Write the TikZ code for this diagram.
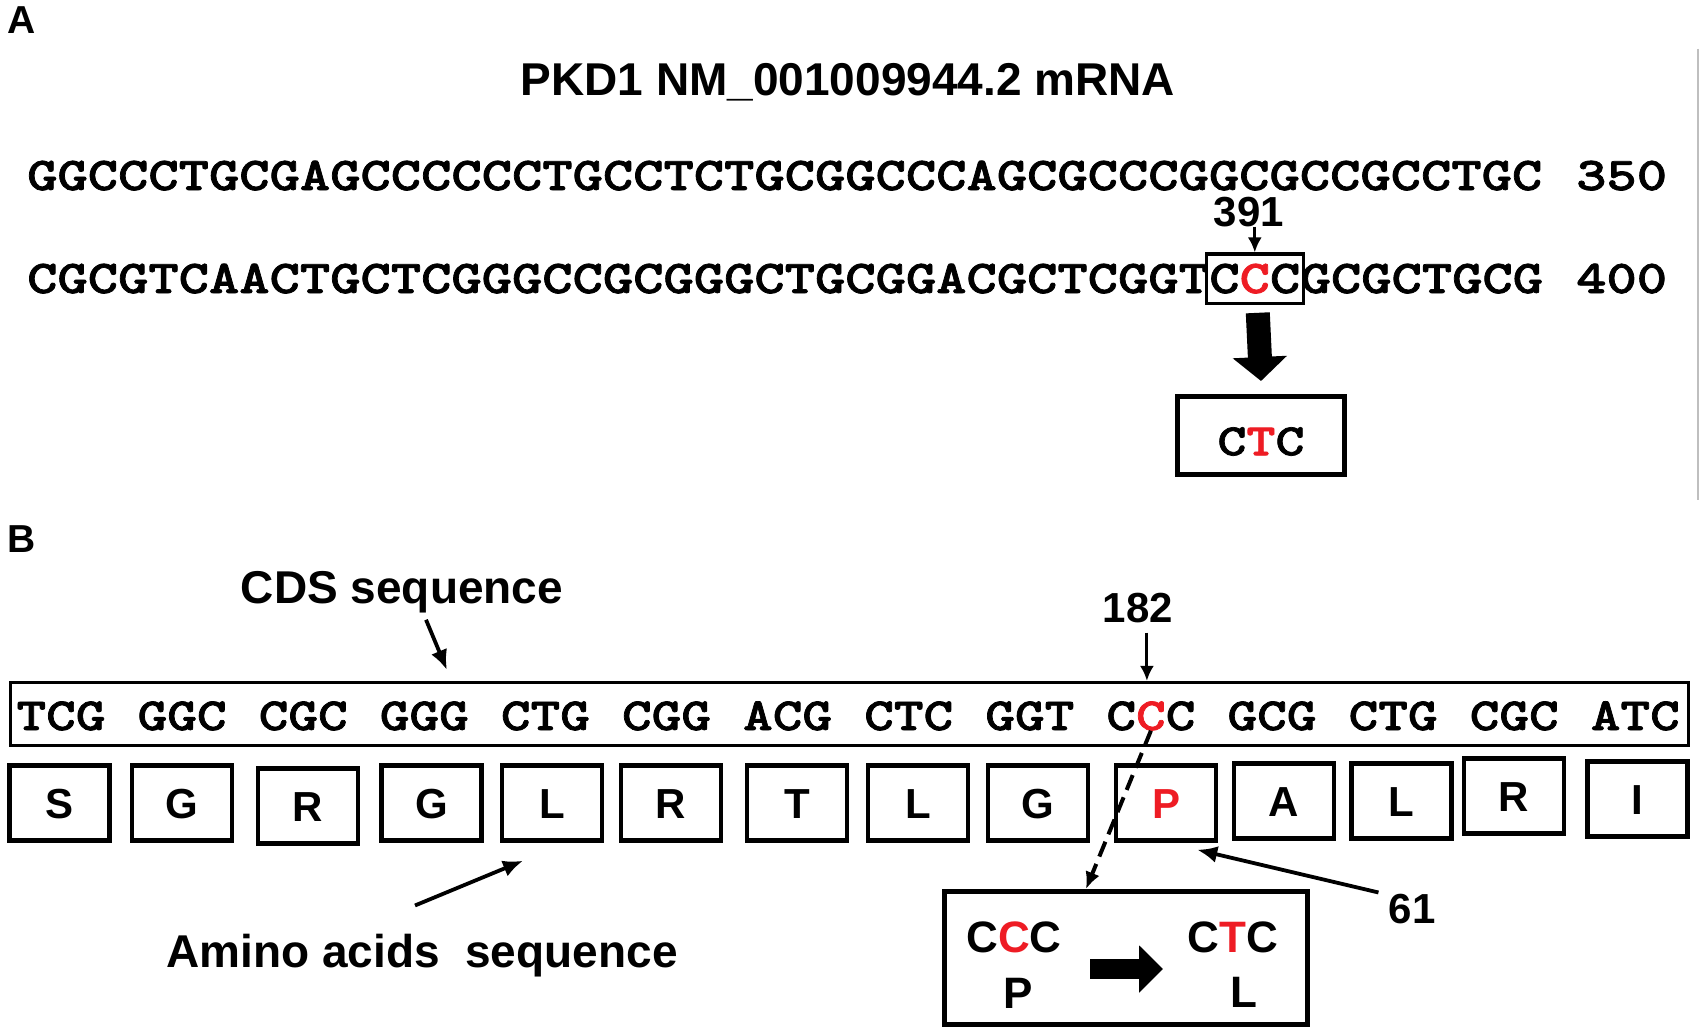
\documentclass[tikz,border=0pt]{standalone}
\usepackage{fontspec}
\usetikzlibrary{arrows.meta,calc,fit}
\newfontfamily\seqfont{lmmonolt10-bold.otf}[FakeStretch=1.228,FakeBold=1.6]
\newfontfamily\arialf{Liberation Sans}
\definecolor{mred}{RGB}{238,28,36}
\tikzset{
  seq/.style={inner sep=0pt, font=\seqfont\fontsize{47}{50}\selectfont},
  codon/.style={inner sep=0pt, font=\seqfont\fontsize{46}{50}\selectfont},
  panel/.style={inner sep=0pt, font=\arialf\bfseries\fontsize{39}{44}\selectfont},
  ttl/.style={inner sep=0pt, font=\arialf\bfseries\fontsize{46}{50}\selectfont},
  lab/.style={inner sep=0pt, font=\arialf\bfseries\fontsize{42}{48}\selectfont},
  biglab/.style={inner sep=0pt, font=\arialf\bfseries\fontsize{46}{50}\selectfont},
  mlab/.style={inner sep=0pt, font=\arialf\bfseries\fontsize{44}{48}\selectfont},
  thinbox/.style={draw, line width=3.2pt},
  ctcbox/.style={draw, line width=5pt, minimum width=167pt, minimum height=78pt, inner sep=0pt,
    font=\seqfont\fontsize{45}{48}\selectfont, text height=39.5pt, text depth=0pt},
  aabox/.style={draw, line width=4.5pt, minimum width=100pt, minimum height=75pt, inner sep=0pt,
    font=\arialf\bfseries\fontsize{42}{48}\selectfont, text height=30pt, text depth=0pt},
  thinarrow/.style={line width=3pt, -{Latex[length=15pt,width=14pt]}},
  medarrow/.style={line width=3.8pt, -{Latex[length=20pt,width=17pt]}},
  dasharrow/.style={line width=4pt, dash pattern=on 16pt off 8pt, -{Latex[length=17pt,width=15pt]}},
  bigarrow/.style={line width=24pt, -{Triangle[length=24pt,width=53pt]}},
  bigarrowB/.style={line width=20pt, -{Triangle[length=24pt,width=46pt]}},
}
\begin{document}
\begin{tikzpicture}[x=1pt,y=-1pt]
\useasboundingbox (0,0) rectangle (1704,1035);
\fill[white] (0,0) rectangle (1704,1035);

% ---------- Panel A ----------
\node[panel, anchor=base west] (pA) at (7,34) {A};
\node[ttl, anchor=base] (title) at (848,96) {PKD1 NM\_001009944.2 mRNA};

\node[seq, anchor=base west] (row1) at (27,190) {GGCCCTGCGAGCCCCCCTGCCTCTGCGGCCCAGCGCCCGGCGCCGCCTGC};
\node[seq, anchor=base west] (n350) at (1576,190) {350};

\node[seq, anchor=base west] (row2a) at (27,293) {CGCGTCAACTGCTCGGGCCGCGGGCTGCGGACGCTCGGT};
\node[seq, anchor=base west] (ccc) at (row2a.base east) {C\textcolor{mred}{C}C};
\node[seq, anchor=base west] (row2b) at (ccc.base east) {GCGCTGCG};
\node[seq, anchor=base west] (n400) at (1576,293) {400};

\node[thinbox, fit=(ccc), inner xsep=3pt, inner ysep=9.5pt] (cccbox) {};
\node[lab, anchor=base] (n391) at (1249,226) {391};
\draw[thinarrow] (n391.south -| ccc.center) -- (cccbox.north -| ccc.center);

\node[ctcbox] (ctc) at (1261,435.5) {C\textcolor{mred}{T}C};
\draw[bigarrow] ($(cccbox.south)+(3,8)$) -- ($(ctc.north)+(0,-13)$);

\draw[gray!50, line width=2pt] (1698,49) -- (1698,500);

% ---------- Panel B ----------
\node[panel, anchor=base west] (pB) at (7,552) {B};
\node[biglab, anchor=base] (cds) at (402,603) {CDS sequence};

\node[draw, line width=3.2pt, minimum width=1678pt, minimum height=63pt, inner sep=0pt] (cdsbox) at (849.5,714) {};
\foreach \t [count=\i] in {TCG,GGC,CGC,GGG,CTG,CGG,ACG,CTC,GGT,{C\textcolor{mred}{C}C},GCG,CTG,CGC,ATC}
  \node[codon, anchor=base] (cod\i) at ({61+121.1*(\i-1)},730) {\t};

\draw[medarrow] ($(cds.south)+(24,7)$) -- ($(cdsbox.north west)+(438,-11)$);

\node[lab, anchor=base] (n182) at (1138,622) {182};
\draw[thinarrow] ($(n182.south -| cod10.center)+(-4,10)$) -- ($(cdsbox.north -| cod10.center)+(-4,0)$);

\foreach \x/\y/\l [count=\i] in {59.5/803/S, 182/803/G, 308/806/R, 431.5/803/G, 552/803/L, 671/803/R,
  797/803/T, 918/803/L, 1038/803/G, 1166/803/{\textcolor{mred}{P}}, 1284/801/A, 1401.5/801/L, 1514/796/R, 1637.5/799/I}
  \node[aabox] (aa\i) at (\x,\y) {\l};

% mutation box
\node[draw, line width=5pt, minimum width=363pt, minimum height=133pt] (mut) at (1126,958) {};
\node[mlab, anchor=base] (mccc) at (1014,952) {C\textcolor{mred}{C}C};
\node[mlab, anchor=base] (mp) at (1018,1008) {P};
\node[mlab, anchor=base] (mctc) at (1233,952) {C\textcolor{mred}{T}C};
\node[mlab, anchor=base] (ml) at (1244,1007) {L};
\coordinate (ma1) at (1090,969);
\coordinate (ma2) at (1163,969);
\draw[bigarrowB] (ma1) -- (ma2);

\coordinate (mtip) at ($(mut.north west)+(144,0)$);
\draw[dasharrow] (cod10.south) -- (mtip);

\node[lab, anchor=base] (n61) at (1412,923) {61};
\draw[medarrow] ($(n61.north west)+(-10,-1)$) -- ($(aa10.south east)+(-21,7)$);

\node[biglab, anchor=base] (amino) at (422,967) {Amino acids~ sequence};
\draw[medarrow] ($(amino.north)+(-7,-28)$) -- ($(aa5.south)+(-29,18)$);
\end{tikzpicture}
\end{document}
